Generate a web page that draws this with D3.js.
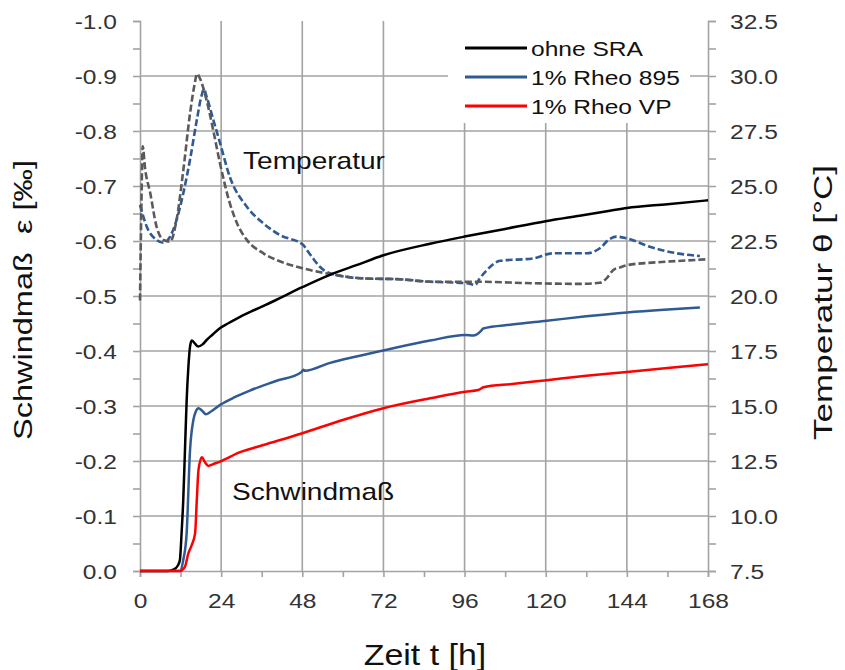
<!DOCTYPE html>
<html>
<head>
<meta charset="utf-8">
<script src="https://cdn.jsdelivr.net/npm/d3@7"></script>
<style>
  html, body { margin: 0; padding: 0; background: #fff; }
  svg { display: block; font-family: "Liberation Sans", Arial, sans-serif; }
</style>
</head>
<body>
<svg id="chart" width="845" height="670"></svg>
<script>
// ---------- DATA ----------
const seriesNames = ["ohne SRA", "1% Rheo 895", "1% Rheo VP"];

// Schwindmaß (left axis, ‰)
const tOhne = [0, 8, 10, 11.2, 11.8, 12.3, 12.8, 13.3, 13.8, 14.3, 14.8, 15.3, 16.2, 17.2, 18.5, 19.7, 21.5, 23.7, 26, 29.6, 34, 39.3, 48, 56, 64, 72, 85.8, 96, 108, 120, 130, 139, 144, 156, 168];
const epsOhne = [0, 0, -0.003, -0.01, -0.02, -0.069, -0.13, -0.22, -0.31, -0.37, -0.408, -0.419, -0.414, -0.408, -0.412, -0.42, -0.43, -0.442, -0.45, -0.462, -0.475, -0.49, -0.516, -0.538, -0.556, -0.574, -0.595, -0.608, -0.622, -0.636, -0.646, -0.655, -0.66, -0.667, -0.674];

const t895 = [0, 11.8, 12.8, 13.8, 14.8, 15.8, 16.5, 17.3, 18.3, 19.5, 21, 23.7, 28, 32.5, 40, 47.8, 48.3, 48.8, 56, 64, 72, 85.8, 96.2, 98.6, 100.8, 101.5, 110, 120.3, 132, 144, 155, 165.6];
const eps895 = [0, 0, -0.02, -0.069, -0.22, -0.275, -0.29, -0.296, -0.292, -0.285, -0.29, -0.302, -0.316, -0.328, -0.345, -0.362, -0.366, -0.364, -0.378, -0.39, -0.401, -0.419, -0.429, -0.428, -0.436, -0.441, -0.448, -0.455, -0.463, -0.47, -0.475, -0.479];

const tVP = [0, 11.8, 13.3, 14.3, 15.3, 16.3, 16.8, 17.3, 18.3, 19.2, 20.2, 21.5, 23.7, 29.6, 36.5, 47.8, 60.2, 72, 85.8, 96.2, 100, 101.6, 110, 120.3, 132, 144, 156, 168];
const epsVP = [0, 0, -0.008, -0.032, -0.047, -0.069, -0.129, -0.184, -0.207, -0.198, -0.191, -0.194, -0.199, -0.216, -0.229, -0.25, -0.275, -0.296, -0.314, -0.326, -0.329, -0.334, -0.34, -0.347, -0.355, -0.362, -0.369, -0.376];

// Temperatur (right axis, °C)
const tTempOhne = [0, 0.4, 0.8, 1.5, 3, 4.9, 6.9, 8.9, 10.8, 12.8, 14.8, 16, 16.9, 17.7, 19.7, 21.7, 23.7, 26.6, 29, 31.6, 36.5, 41, 46.4, 56.2, 66.1, 76.9, 85.8, 98.6, 116.3, 130, 136, 138, 140, 142, 144, 150, 155.8, 168];
const tempOhne = [19.8, 24, 26.8, 25.8, 24.7, 23.15, 22.55, 22.47, 23.45, 25.7, 28.3, 29.5, 30.1, 29.9, 28.9, 27.5, 26.0, 24.2, 23.2, 22.55, 21.94, 21.6, 21.33, 21.0, 20.8, 20.76, 20.65, 20.65, 20.58, 20.55, 20.6, 20.8, 21.18, 21.3, 21.4, 21.5, 21.56, 21.67];

const tTemp895 = [0, 2, 4.9, 6.9, 8.9, 10.8, 12.8, 14.8, 16.8, 18.2, 18.9, 19.7, 21.7, 23.7, 26.6, 31.6, 36.5, 41.4, 48.3, 49.3, 50.8, 53.2, 56.2, 66.1, 76.9, 85.8, 96.7, 99.1, 100.5, 102.6, 106.5, 116.3, 122.2, 132.1, 136, 139, 140.9, 144, 150.8, 158.8, 165.6];
const temp895 = [24.14, 23.15, 22.55, 22.42, 22.7, 23.45, 24.67, 26.2, 28.0, 29.1, 29.4, 29.06, 28.0, 26.94, 25.4, 24.06, 23.3, 22.77, 22.32, 22.1, 21.79, 21.33, 21.03, 20.8, 20.76, 20.65, 20.58, 20.5, 20.8, 21.18, 21.6, 21.71, 21.94, 21.94, 22.17, 22.6, 22.7, 22.62, 22.24, 21.94, 21.82];

// Ticks
const xTicks = [0, 24, 48, 72, 96, 120, 144, 168];
const xMinorTicks = [12, 36, 60, 84, 108, 132, 156];
const leftTicks = [0, -0.1, -0.2, -0.3, -0.4, -0.5, -0.6, -0.7, -0.8, -0.9, -1.0];
const leftTickLabels = ["0.0", "-0.1", "-0.2", "-0.3", "-0.4", "-0.5", "-0.6", "-0.7", "-0.8", "-0.9", "-1.0"];
const leftMinorTicks = [-0.05, -0.15, -0.25, -0.35, -0.45, -0.55, -0.65, -0.75, -0.85, -0.95];
const rightTicks = [7.5, 10, 12.5, 15, 17.5, 20, 22.5, 25, 27.5, 30, 32.5];
const rightTickLabels = ["7.5", "10.0", "12.5", "15.0", "17.5", "20.0", "22.5", "25.0", "27.5", "30.0", "32.5"];
const rightMinorTicks = [8.75, 11.25, 13.75, 16.25, 18.75, 21.25, 23.75, 26.25, 28.75, 31.25];

// ---------- DRAW ----------
const svg = d3.select("#chart");
const L = 140, R = 708, T = 21, B = 571;
const SX = 1.17;               // horizontal text stretch
const gridColor = "#a3a3a3";
const textColor = "#333";

const x = d3.scaleLinear().domain([0, 168]).range([L, R]);
const yL = d3.scaleLinear().domain([0, -1]).range([B, T]);
const yR = d3.scaleLinear().domain([7.5, 32.5]).range([B, T]);

// Grid
const grid = svg.append("g");
grid.selectAll("line.h").data(leftTicks.filter(v => v !== 0 && v !== -1.0)).enter().append("line")
  .attr("x1", L).attr("x2", R).attr("y1", d => yL(d)).attr("y2", d => yL(d))
  .attr("stroke", gridColor).attr("stroke-width", 1.6);
grid.selectAll("line.v").data(xTicks.filter(v => v !== 0 && v !== 168)).enter().append("line")
  .attr("x1", d => x(d)).attr("x2", d => x(d)).attr("y1", T).attr("y2", B)
  .attr("stroke", gridColor).attr("stroke-width", 1.6);

function styleAxis(g) {
  g.select(".domain").attr("stroke", gridColor).attr("stroke-width", 1.6);
  g.selectAll(".tick line").attr("stroke", gridColor).attr("stroke-width", 1.6);
  g.selectAll("text").attr("fill", textColor).attr("font-size", 21)
    .attr("font-family", "'Liberation Sans', Arial, sans-serif");
}

// Left axis
const gLeft = svg.append("g").attr("transform", `translate(${L},0)`)
  .call(d3.axisLeft(yL).tickValues(leftTicks).tickSizeOuter(0).tickSize(7)
    .tickFormat((d, i) => leftTickLabels[i]));
styleAxis(gLeft);
gLeft.selectAll(".tick text").attr("x", 0).attr("dy", "0.36em").attr("text-anchor", "end")
  .attr("transform", `translate(-23,0) scale(${SX},1)`);
svg.append("g").attr("transform", `translate(${L},0)`)
  .call(d3.axisLeft(yL).tickValues(leftMinorTicks).tickSize(7).tickFormat(""))
  .call(g => { g.select(".domain").remove(); g.selectAll("line").attr("stroke", gridColor).attr("stroke-width", 1.6); });

// Right axis
const gRight = svg.append("g").attr("transform", `translate(${R},0)`)
  .call(d3.axisRight(yR).tickValues(rightTicks).tickSizeOuter(0).tickSize(8)
    .tickFormat((d, i) => rightTickLabels[i]));
styleAxis(gRight);
gRight.selectAll(".tick text").attr("x", 0).attr("dy", "0.36em").attr("text-anchor", "start")
  .attr("transform", `translate(22,0) scale(${SX},1)`);
svg.append("g").attr("transform", `translate(${R},0)`)
  .call(d3.axisRight(yR).tickValues(rightMinorTicks).tickSize(8).tickFormat(""))
  .call(g => { g.select(".domain").remove(); g.selectAll("line").attr("stroke", gridColor).attr("stroke-width", 1.6); });

// Bottom axis
const gBottom = svg.append("g").attr("transform", `translate(0,${B})`)
  .call(d3.axisBottom(x).tickValues(xTicks).tickSizeOuter(0).tickSize(6)
    .tickFormat(d => String(d)));
styleAxis(gBottom);
gBottom.selectAll(".tick text").attr("y", 0).attr("dy", 0).attr("text-anchor", "middle")
  .attr("transform", `translate(0,37) scale(${SX},1)`);
svg.append("g").attr("transform", `translate(0,${B})`)
  .call(d3.axisBottom(x).tickValues(xMinorTicks).tickSize(6).tickFormat(""))
  .call(g => { g.select(".domain").remove(); g.selectAll("line").attr("stroke", gridColor).attr("stroke-width", 1.6); });

// Lines
const zip = (a, b) => a.map((v, i) => [v, b[i]]);
const lineL = d3.line().x(d => x(d[0])).y(d => yL(d[1])).curve(d3.curveMonotoneX);
const lineR = d3.line().x(d => x(d[0])).y(d => yR(d[1])).curve(d3.curveMonotoneX);

const colBlack = "#000000", colBlue = "#2f5a94", colRed = "#ff0000", colGrey = "#5a5a5a";

// Temperature curves (dashed)
svg.append("path").attr("d", lineR(zip(tTemp895, temp895)))
  .attr("fill", "none").attr("stroke", colBlue).attr("stroke-width", 2.6).attr("stroke-dasharray", "7,3");
svg.append("path").attr("d", lineR(zip(tTempOhne, tempOhne)))
  .attr("fill", "none").attr("stroke", colGrey).attr("stroke-width", 2.6).attr("stroke-dasharray", "7,3");

// Shrinkage curves
svg.append("path").attr("d", lineL(zip(tOhne, epsOhne)))
  .attr("fill", "none").attr("stroke", colBlack).attr("stroke-width", 2.5);
svg.append("path").attr("d", lineL(zip(t895, eps895)))
  .attr("fill", "none").attr("stroke", colBlue).attr("stroke-width", 2.5);
svg.append("path").attr("d", lineL(zip(tVP, epsVP)))
  .attr("fill", "none").attr("stroke", colRed).attr("stroke-width", 2.5);

// Legend
svg.append("rect").attr("x", 448).attr("y", 20).attr("width", 242).attr("height", 103).attr("fill", "#fff");
const legCols = [colBlack, colBlue, colRed];
const legY = [48, 77, 106];
seriesNames.forEach((name, i) => {
  svg.append("line").attr("x1", 465).attr("x2", 527).attr("y1", legY[i]).attr("y2", legY[i])
    .attr("stroke", legCols[i]).attr("stroke-width", 3);
  svg.append("text").attr("transform", `translate(531,${legY[i] + 7.5}) scale(${SX},1)`)
    .attr("font-size", 21).attr("fill", "#111").text(name);
});

// Annotations
svg.append("text").attr("transform", `translate(243,169) scale(${SX},1)`)
  .attr("font-size", 24).attr("fill", "#111").text("Temperatur");
svg.append("text").attr("transform", `translate(232,500) scale(${SX},1)`)
  .attr("font-size", 24).attr("fill", "#111").text("Schwindmaß");

// Axis titles
svg.append("text").attr("transform", `translate(425,665) scale(${SX},1)`)
  .attr("text-anchor", "middle").attr("font-size", 29).attr("fill", "#111").text("Zeit t [h]");
svg.append("text").attr("transform", "translate(32,440) rotate(-90)")
  .attr("font-size", 25).attr("fill", "#111").attr("textLength", 280).attr("lengthAdjust", "spacingAndGlyphs")
  .style("white-space", "pre").text("Schwindmaß  ε [‰]");
svg.append("text").attr("transform", "translate(832,440) rotate(-90)")
  .attr("font-size", 25).attr("fill", "#111").attr("textLength", 275).attr("lengthAdjust", "spacingAndGlyphs")
  .text("Temperatur θ [°C]");
</script>
</body>
</html>
